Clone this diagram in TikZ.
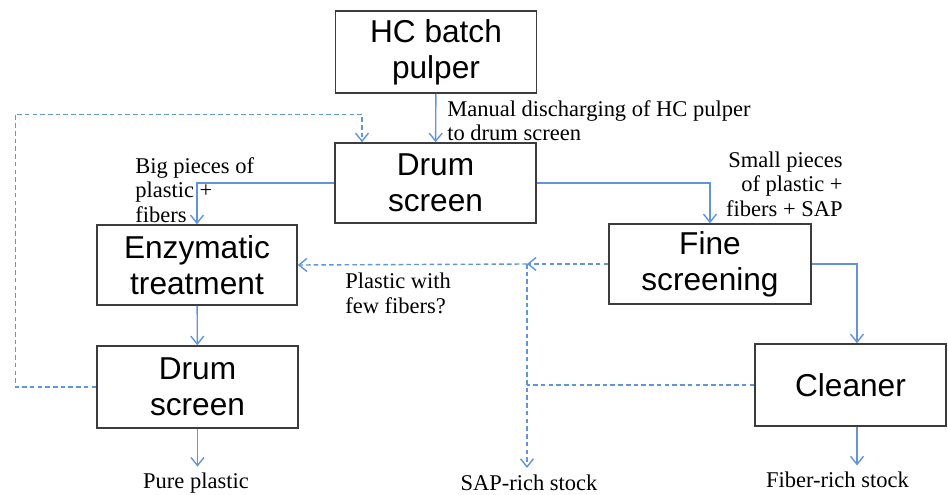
\documentclass[tikz,border=0pt]{standalone}
\usepackage{fontspec}
\setmainfont{Liberation Serif}
\newfontfamily\boxfont{Liberation Sans}
\usepackage{xcolor}
\usetikzlibrary{arrows.meta}
\definecolor{flowblue}{RGB}{98,148,218}
\definecolor{boxgray}{RGB}{60,60,60}

\begin{document}
\begin{tikzpicture}[
    unit/.style={rectangle, draw=boxgray, line width=0.9pt, minimum width=4.02cm, minimum height=1.62cm, align=center, font=\boxfont\fontsize{18}{20.5}\selectfont, inner sep=0pt},
    note/.style={inner sep=0pt, font=\fontsize{12.8}{13.9}\selectfont},
    outlet/.style={inner xsep=0pt, inner ysep=3.6pt, font=\fontsize{12.8}{13.9}\selectfont},
    arrow/.style={-{Straight Barb[length=1.6mm, width=2.6mm]}, draw=flowblue, line width=0.8pt},
    dashline/.style={draw=flowblue, line width=0.8pt, dash pattern=on 2.6pt off 1.8pt},
    dasharrow/.style={dashline, -{Straight Barb[length=1.6mm, width=2.6mm]}}
]
\useasboundingbox (0,0) rectangle (18.96,-9.9);

\node[unit, minimum height=1.64cm] (pulper) at (8.72,-1.04) {HC batch\\pulper};
\node[unit, minimum height=1.6cm] (drum1) at (8.71,-3.66) {Drum\\screen};
\node[unit, minimum width=4.0cm, minimum height=1.6cm] (enzym) at (3.94,-5.30) {Enzymatic\\treatment};
\node[unit, minimum width=4.04cm, minimum height=1.6cm] (fine) at (14.2,-5.28) {Fine\\screening};
\node[unit, minimum height=1.64cm] (drum2) at (3.95,-7.74) {Drum\\screen};
\node[unit, minimum width=3.82cm, minimum height=1.64cm] (cleaner) at (17.01,-7.70) {Cleaner};

\coordinate (sapjoin) at (10.54,-5.28);

\node[note, anchor=west, align=left] (manual) at (8.94,-2.41) {Manual discharging of HC pulper\\to drum screen};
\node[note, anchor=west, align=left] (big) at (2.7,-3.8) {Big pieces of\\plastic +\\fibers};
\node[note, anchor=east, align=right] (small) at (16.86,-3.68) {Small pieces\\of plastic +\\fibers + SAP};
\node[note, anchor=west, align=left] (fewfib) at (6.9,-5.87) {Plastic with\\few fibers?};

\node[outlet] (pure) at (3.92,-9.67) {Pure plastic};
\node[outlet] (sap) at (10.58,-9.65) {SAP-rich stock};
\node[outlet] (fiber) at (16.75,-9.60) {Fiber-rich stock};

\draw[arrow] (pulper) -- (drum1);
\draw[arrow] (drum1.west) -| (enzym.north);
\draw[arrow] (drum1.east) -| (fine.north);
\draw[arrow] (enzym) -- (drum2);
\draw[arrow] (drum2.south) -- (drum2.south |- pure.north);
\draw[arrow] (fine.east) -| ([xshift=0.13cm]cleaner.north);
\draw[arrow] ([xshift=0.13cm]cleaner.south) -- ([xshift=0.13cm]cleaner.south |- fiber.north);

\draw[dasharrow] (fine.west) -- (sapjoin);
\draw[dasharrow] (sapjoin) -- (enzym.east);
\draw[dasharrow] (sapjoin) -- (sapjoin |- sap.north);
\draw[dashline] (cleaner.west) -- (sapjoin |- cleaner.west);
\draw[dasharrow] (drum2.west) -- ++(-1.62,0) |- ([xshift=-1.47cm, yshift=0.56cm]drum1.north) -- ([xshift=-1.47cm]drum1.north);
\end{tikzpicture}
\end{document}
